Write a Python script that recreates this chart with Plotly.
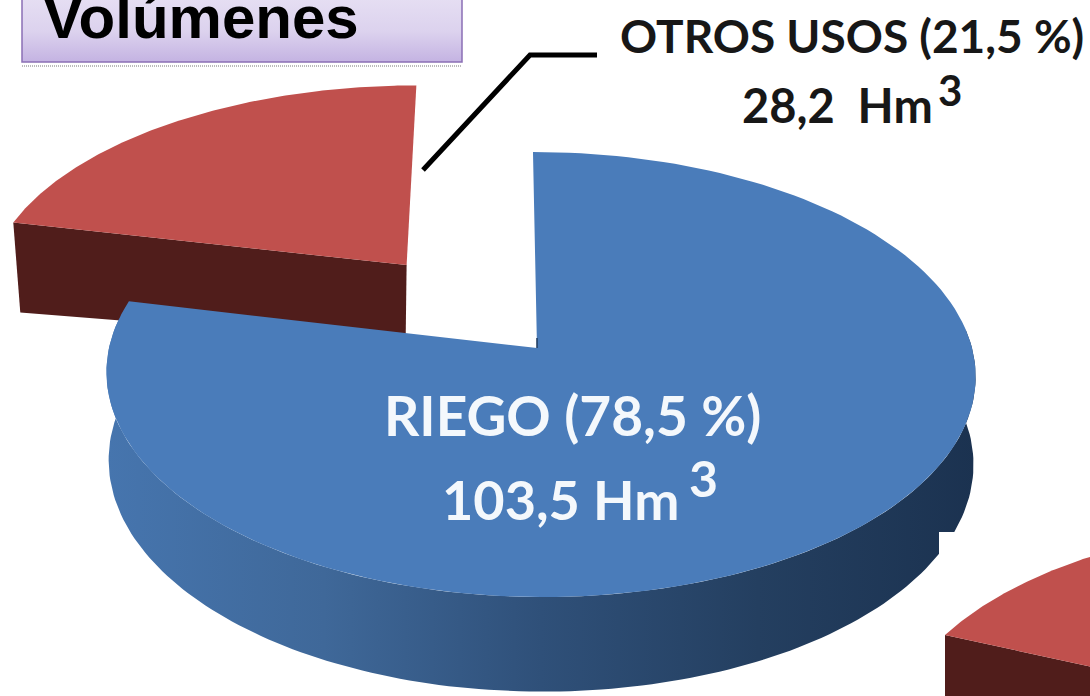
import math
import plotly.graph_objects as go

# Data
categories = ["RIEGO", "OTROS USOS"]
shares_pct = [78.5, 21.5]
volumes_hm3 = ["103,5", "28,2"]
second_pie_share_pct = [18.5]   # partly visible slice at the lower right corner
title_text = "Volúmenes"

COL_BLUE, COL_RED, COL_RED_DARK = "#4a7cba", "#c0504d", "#501d1b"
WALL_SCALE = [[0, "#4675ae"], [0.25, "#3f6899"], [0.5, "#2f5079"], [0.75, "#243f60"], [1, "#1b3250"]]

# Oblique projection of the pie's disc onto the page
P, RY, A, B, CX, CY, H = 0.119, 219.4, 435.0, 59.4, 537.0, 348.0, 87.0


def proj(u, v, dx=0.0, dy=0.0, a_left=A):
    w = 1 + P * v
    a = a_left if u < 0 else A
    return (a * u + B * v + CX) / w + dx, CY - RY * v / w + dy


def arc(a0, a1, u0=0.0, v0=0.0, dx=0.0, dy=0.0, a_left=A, n=160):
    pts = []
    for i in range(n + 1):
        a = math.radians(a0 + (a1 - a0) * i / n)
        pts.append(proj(u0 + math.sin(a), v0 + math.cos(a), dx, dy, a_left))
    return pts


def lower(pts):
    out = []
    for x, y in pts:
        out.append((540 + (x - 540) * 0.995, y + H * (1.0 + (348 - y) * -0.00035)))
    return out


def poly(fig, pts, color=None, grad=None):
    xs = [p[0] for p in pts] + [pts[0][0]]
    ys = [p[1] for p in pts] + [pts[0][1]]
    kw = dict(fillgradient=grad) if grad else dict(fillcolor=color)
    fig.add_trace(go.Scatter(x=xs, y=ys, mode="lines", fill="toself", line=dict(width=0),
                             hoverinfo="skip", showlegend=False, **kw))


fig = go.Figure()

# --- exploded slice (OTROS USOS)
a_split = shares_pct[0] * 3.6
mid = math.radians((a_split + 360) / 2)
d = 0.507
u0, v0 = d * math.sin(mid), d * math.cos(mid)
red_arc = arc(a_split, 360, u0, v0, dx=3)
apex_red = proj(u0, v0, dx=3)
tip = red_arc[0]
poly(fig, [tip, apex_red, (apex_red[0] - 1, apex_red[1] + 78), (tip[0] + 7, tip[1] + 90)], COL_RED_DARK)
poly(fig, red_arc + [apex_red], COL_RED)

# --- main slice (RIEGO)
LEFT_A = 428.0
ring = arc(85, 278, a_left=LEFT_A)
poly(fig, ring + lower(ring)[::-1], grad=dict(type="horizontal", colorscale=WALL_SCALE))
poly(fig, arc(0, a_split, a_left=LEFT_A) + [proj(0, 0)], COL_BLUE)
fig.add_trace(go.Scatter(x=[proj(0, 0)[0]] * 2, y=[338, proj(0, 0)[1]], mode="lines",
                         line=dict(color="#1f3a5c", width=1.5), hoverinfo="skip", showlegend=False))

# --- white patch and slice of the neighbouring chart, lower right
poly(fig, [(939, 532), (1090, 532), (1090, 696), (939, 696)], "#ffffff")
a2 = 360 - second_pie_share_pct[0] * 3.6
sx, sy = proj(math.sin(math.radians(a2)), math.cos(math.radians(a2)))
ox, oy = 945 - sx, 635 - sy
arc2 = arc(a2, 360, dx=ox, dy=oy)
apex2 = proj(0, 0, ox, oy)
poly(fig, [arc2[0], apex2, (apex2[0], 800), (arc2[0][0], 800)], COL_RED_DARK)
poly(fig, arc2 + [apex2], COL_RED)

# --- title box
poly(fig, [(22, -25), (462, -25), (462, 62), (22, 62)],
     grad=dict(type="vertical", colorscale=[[0, "#c4b3e2"], [0.35, "#dcd2ee"], [1, "#ece7f6"]]))
fig.add_trace(go.Scatter(x=[22, 22, 462, 462], y=[-25, 62, 62, -25], mode="lines",
                         line=dict(color="#8a6fb5", width=1.5), hoverinfo="skip", showlegend=False))
fig.add_trace(go.Scatter(x=[22, 462], y=[66, 66], mode="lines",
                         line=dict(color="#777777", width=1, dash="1px,1px"), hoverinfo="skip", showlegend=False))

# --- leader line
fig.add_trace(go.Scatter(x=[423, 530, 597], y=[170, 55, 55], mode="lines",
                         line=dict(color="#000000", width=5), hoverinfo="skip", showlegend=False))


def note(text, x, y, size, color, family="Lato", anchor="center"):
    fig.add_annotation(x=x, y=y, xref="x", yref="y", text=text, showarrow=False, xanchor=anchor, yanchor="middle",
                       font=dict(family=family, size=size, color=color, weight=700))


note(title_text, 41, 17, 60, "#000000", family="Liberation Sans", anchor="left")
note(f"{categories[1]} ({str(shares_pct[1]).replace('.', ',')} %)", 852, 35, 46, "#171717")
note(f"{volumes_hm3[1]}&nbsp;&nbsp;Hm", 837, 105, 47, "#171717")
note("3", 950, 90, 42, "#171717")
note(f"{categories[0]} ({str(shares_pct[0]).replace('.', ',')} %)", 572, 415, 55, "#f4f8fc")
note(f"{volumes_hm3[0]} Hm", 560, 499, 54, "#f4f8fc")
note("3", 703, 478, 50, "#f4f8fc")

fig.update_layout(width=1090, height=696, margin=dict(l=0, r=0, t=0, b=0), showlegend=False,
                  paper_bgcolor="#ffffff", plot_bgcolor="#ffffff",
                  xaxis=dict(range=[0, 1090], visible=False, fixedrange=True),
                  yaxis=dict(range=[696, 0], visible=False, fixedrange=True))

fig.write_html("out.html", config=dict(displayModeBar=False),
               post_script="document.body.style.margin='0';document.documentElement.style.overflow='hidden';")
